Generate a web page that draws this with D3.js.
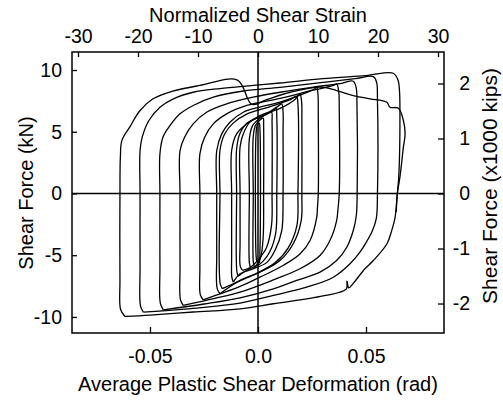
<!DOCTYPE html>
<html><head><meta charset="utf-8">
<script src="https://cdn.jsdelivr.net/npm/d3@7"></script>
<style>
body{margin:0;background:#fff}
svg text{font-family:"Liberation Sans",Arial,Helvetica,sans-serif;fill:#000}
</style>
</head><body>
<svg id="chart" width="503" height="402"></svg>
<script>
// ---- Tick values and labels ----
const bottomTicks = [-0.05, 0, 0.05];
const bottomTickLabels = ["-0.05", "0.0", "0.05"];
const topTicks = [-30, -20, -10, 0, 10, 20, 30];
const topTickLabels = ["-30", "-20", "-10", "0", "10", "20", "30"];
const leftTicks = [-10, -5, 0, 5, 10];
const leftTickLabels = ["-10", "-5", "0", "5", "10"];
const rightTicks = [-2, -1, 0, 1, 2];
const rightTickLabels = ["-2", "-1", "0", "1", "2"];

// ---- Hysteresis loops: [plastic shear deformation (rad), shear force (kN)] ----
const tinyCycle = [[-0.0006,-5.5],[-0.0009,-5.0],[-0.0009,4.8],[-0.0004,5.5],[0.0006,5.7],[0.0009,5.2],[0.0009,-4.6],[0.0005,-5.6],[-0.0006,-5.5]];
const smallCycle = [[-0.0018,-5.9],[-0.0022,-5.5],[-0.0022,0],[-0.0022,4.6],[-0.0012,5.5],[0.0012,6.0],[0.0024,6.1],[0.0026,5.5],[0.0026,0],[0.0024,-3.5],[0.0012,-5.2],[-0.0008,-5.8],[-0.0018,-6.0]];
const cycle1 = [[-0.0035,-6.0],[-0.0040,-5.6],[-0.0040,0],[-0.0040,4.4],[-0.0025,5.5],[0.0010,6.1],[0.0050,6.5],[0.0063,6.58],[0.0065,5.8],[0.0065,0],[0.0063,-2.5],[0.0040,-4.35],[0.0009,-5.2],[-0.0036,-6.0],[-0.0071,-6.23]];
const cycle2 = [[-0.0071,-6.23],[-0.0082,-5.9],[-0.0083,-4],[-0.0083,0],[-0.0083,3.75],[-0.0068,4.83],[-0.0036,5.8],[0.0040,6.45],[0.0095,7.1],[0.0110,7.26],[0.0116,6.6],[0.0116,5],[0.0116,0],[0.0110,-3.0],[0.0079,-4.6],[0.0040,-5.6],[-0.0023,-6.1],[-0.0083,-6.5],[-0.0114,-7.18]];
const cycle2b = [[-0.0092,-6.7],[-0.0098,-6.3],[-0.0099,0],[-0.0099,3.6],[-0.0085,4.8],[-0.0050,5.7],[0.0020,6.3],[0.0075,6.8],[0.0084,6.9],[0.0087,6.2],[0.0087,0],[0.0082,-3.2],[0.0055,-4.7],[0.0010,-5.7],[-0.0050,-6.2],[-0.0092,-6.7]];
const cycle3 = [[-0.0114,-7.18],[-0.0121,-6.8],[-0.0122,-5],[-0.0122,0],[-0.0122,3.48],[-0.0099,4.83],[-0.0052,5.64],[0.0009,6.32],[0.0102,6.9],[0.0170,7.6],[0.0194,8.07],[0.0202,7.4],[0.0203,6],[0.0203,0],[0.0200,-2.19],[0.0163,-4.07],[0.0102,-5.43],[0.0009,-6.37],[-0.0083,-7.04],[-0.0176,-8.12]];
const cycle3b = [[-0.0165,-7.7],[-0.0175,-7.3],[-0.0176,0],[-0.0176,3.5],[-0.0155,4.8],[-0.0115,5.7],[-0.0050,6.45],[0.0050,7.0],[0.0150,7.6],[0.0178,7.85],[0.0185,7.2],[0.0185,0],[0.0180,-2.6],[0.0140,-4.4],[0.0080,-5.6],[-0.0010,-6.5],[-0.0100,-7.2],[-0.0165,-7.7]];
const cycle4 = [[-0.0176,-8.12],[-0.0189,-7.7],[-0.0191,-5],[-0.0191,0],[-0.0191,3.48],[-0.0168,4.83],[-0.0130,5.77],[-0.0068,6.58],[0.0009,7.0],[0.0102,7.4],[0.0200,8.0],[0.0265,8.5],[0.0272,8.61],[0.0278,7.9],[0.0279,6.5],[0.0279,0],[0.0275,-1.2],[0.0272,-1.92],[0.0241,-3.81],[0.0194,-4.9],[0.0116,-5.83],[0.0009,-6.78],[-0.0083,-7.53],[-0.0253,-8.61]];
const cycle5 = [[-0.0253,-8.61],[-0.0267,-8.2],[-0.0269,-6],[-0.0269,0],[-0.0269,3.21],[-0.0247,4.56],[-0.0207,5.64],[-0.0145,6.45],[-0.0052,7.13],[0.0102,7.7],[0.0250,8.35],[0.0349,8.75],[0.0364,8.88],[0.0374,8.2],[0.0376,7.0],[0.0376,0],[0.0370,-1.3],[0.0364,-2.19],[0.0333,-3.81],[0.0287,-5.02],[0.0194,-6.1],[0.0071,-7.0],[-0.0083,-7.99],[-0.0200,-8.5],[-0.0346,-9.07]];
const cycle6 = [[-0.0346,-9.07],[-0.0359,-8.6],[-0.0361,-6],[-0.0361,0],[-0.0361,3.48],[-0.0340,4.56],[-0.0300,5.64],[-0.0238,6.58],[-0.0145,7.26],[-0.0022,7.8],[0.0102,8.2],[0.0250,8.6],[0.0380,8.9],[0.0441,9.09],[0.0455,8.5],[0.0458,7.3],[0.0459,0],[0.0455,-1.8],[0.0441,-3.0],[0.0411,-4.35],[0.0364,-5.43],[0.0287,-6.37],[0.0179,-7.04],[0.0071,-7.72],[-0.0083,-8.45],[-0.0250,-8.95],[-0.0438,-9.42]];
const cycle7 = [[-0.0438,-9.42],[-0.0452,-8.9],[-0.0454,-6],[-0.0454,0],[-0.0454,3.21],[-0.0440,4.56],[-0.0407,5.51],[-0.0361,6.45],[-0.0300,7.13],[-0.0207,7.8],[-0.0068,8.3],[0.0102,8.6],[0.0300,9.0],[0.0450,9.3],[0.0534,9.47],[0.0549,9.0],[0.0553,7.5],[0.0553,0],[0.0548,-2.0],[0.0530,-3.0],[0.0503,-3.9],[0.0472,-4.75],[0.0426,-5.69],[0.0349,-6.78],[0.0225,-7.59],[0.0071,-8.26],[-0.0083,-8.88],[-0.0300,-9.3],[-0.0531,-9.61]];
const cycle8 = [[-0.0531,-9.61],[-0.0544,-9.1],[-0.0546,-6],[-0.0546,0],[-0.0546,3.48],[-0.0536,4.56],[-0.0505,5.91],[-0.0454,6.99],[-0.0394,7.65],[-0.0300,8.2],[-0.0176,8.5],[-0.0022,8.75],[0.0102,8.95],[0.0300,9.3],[0.0500,9.55],[0.0626,9.74],[0.0648,9.2],[0.0655,8.3],[0.0657,6.7],[0.0652,1.5],[0.0645,0],[0.0634,-2.0],[0.0619,-3.0],[0.0597,-4.07],[0.0534,-5.43],[0.0495,-6.1],[0.0440,-7.3],[0.0420,-7.65],[0.0412,-7.1],[0.0408,-7.75],[0.0301,-8.3],[0.0071,-8.93],[-0.0083,-9.34],[-0.0300,-9.6],[-0.0500,-9.85],[-0.0616,-9.96]];
const finalCycle = [[-0.0616,-9.96],[-0.0636,-9.4],[-0.0639,-7.0],[-0.0639,0],[-0.0637,3.0],[-0.0630,4.3],[-0.0593,5.4],[-0.0546,6.72],[-0.0486,7.67],[-0.0394,8.3],[-0.0269,8.75],[-0.0095,9.18],[-0.0028,7.21],[0.0040,7.6],[0.0150,8.2],[0.0287,8.61],[0.0364,8.34],[0.0441,7.93],[0.0519,7.67],[0.0596,7.39],[0.0611,6.99],[0.0650,6.91],[0.0673,5.91],[0.0681,4.83],[0.0673,3.75],[0.0657,1.32],[0.0645,0],[0.0640,-1.5]];

const cycles = [tinyCycle, smallCycle, cycle1, cycle2, cycle2b, cycle3, cycle3b, cycle4, cycle5, cycle6, cycle7, cycle8, finalCycle];

// ---- Layout ----
const svg = d3.select("#chart");
const L = 72, R = 444, T = 52, B = 333;
const x = d3.scaleLinear().domain([-0.0861, 0.0861]).range([L, R]);
const xTop = d3.scaleLinear().domain([-31, 31]).range([L, R]);
const y = d3.scaleLinear().domain([-11.30, 11.46]).range([B, T]);
const yR = d3.scaleLinear().domain([-2.536, 2.573]).range([B, T]);
const FS = 19.5;

// Loops
const line = d3.line().x(d => x(d[0])).y(d => y(d[1])).curve(d3.curveCatmullRom.alpha(0.5));
svg.append("g").selectAll("path").data(cycles).join("path")
  .attr("d", line).attr("fill", "none").attr("stroke", "#000")
  .attr("stroke-width", 1.3).attr("stroke-linejoin", "round");

// Zero lines
svg.append("line").attr("x1", x(0)).attr("x2", x(0)).attr("y1", T).attr("y2", B)
  .attr("stroke", "#000").attr("stroke-width", 1.5);
svg.append("line").attr("x1", L).attr("x2", R).attr("y1", y(0)).attr("y2", y(0))
  .attr("stroke", "#000").attr("stroke-width", 1.5);

// Frame
svg.append("rect").attr("x", L).attr("y", T).attr("width", R - L).attr("height", B - T)
  .attr("fill", "none").attr("stroke", "#000").attr("stroke-width", 1.5);

function styleAxis(g) {
  g.select(".domain").remove();
  g.selectAll(".tick line").attr("stroke", "#000").attr("stroke-width", 1.3);
  g.selectAll(".tick text").attr("font-size", FS).attr("font-family", null).attr("fill", "#000");
  g.attr("font-family", null).attr("font-size", null);
}

svg.append("g").attr("transform", `translate(0,${B})`)
  .call(d3.axisBottom(x).tickValues(bottomTicks).tickFormat((d, i) => bottomTickLabels[i]).tickSize(-6).tickPadding(16))
  .call(styleAxis);
svg.append("g").attr("transform", `translate(0,${T})`)
  .call(d3.axisTop(xTop).tickValues(topTicks).tickFormat((d, i) => topTickLabels[i]).tickSize(-5).tickPadding(9))
  .call(styleAxis);
svg.append("g").attr("transform", `translate(${L},0)`)
  .call(d3.axisLeft(y).tickValues(leftTicks).tickFormat((d, i) => leftTickLabels[i]).tickSize(-5).tickPadding(10))
  .call(styleAxis);
const gr = svg.append("g").attr("transform", `translate(${R},0)`)
  .call(d3.axisRight(yR).tickValues(rightTicks).tickFormat((d, i) => rightTickLabels[i]).tickSize(-6).tickPadding(10))
  .call(styleAxis);
gr.selectAll(".tick text").attr("text-anchor", "end").attr("x", 26);

// Titles
svg.append("text").attr("x", 258).attr("y", 22).attr("text-anchor", "middle")
  .attr("font-size", 20).text("Normalized Shear Strain");
svg.append("text").attr("x", 258).attr("y", 391).attr("text-anchor", "middle")
  .attr("font-size", 20).text("Average Plastic Shear Deformation (rad)");
svg.append("text").attr("transform", "translate(33,193) rotate(-90)").attr("text-anchor", "middle")
  .attr("font-size", 20).text("Shear Force (kN)");
svg.append("text").attr("transform", "translate(497,186) rotate(-90)").attr("text-anchor", "middle")
  .attr("font-size", 21).text("Shear Force (x1000 kips)");
</script>
</body></html>
